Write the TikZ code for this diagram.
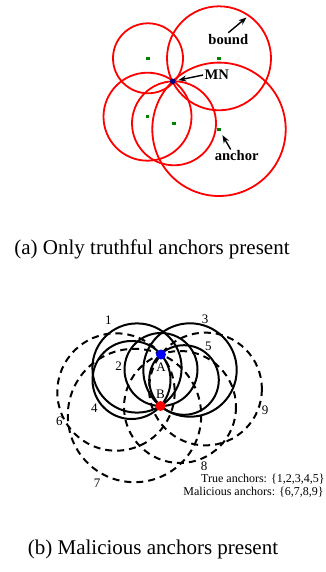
\documentclass[tikz,border=0pt]{standalone}
\usepackage{fontspec}
\setmainfont{Liberation Serif}
\usetikzlibrary{arrows.meta}

\begin{document}
\begin{tikzpicture}[x=0.5pt,y=-0.5pt,
  bnd/.style={color=red,line width=0.9pt},
  anc/.style={fill=green!50!black,inner sep=0pt,minimum size=1.7pt},
  lbl/.style={font=\fontsize{7.3}{8}\selectfont\bfseries,inner sep=0.5pt},
  ptr/.style={line width=0.7pt,-{Stealth[length=4pt,width=3pt]}},
  tru/.style={line width=1pt},
  mal/.style={line width=1pt,dash pattern=on 3.5pt off 2.5pt},
  num/.style={font=\fontsize{6.5}{7}\selectfont,inner sep=0pt},
  subcap/.style={font=\fontsize{10.5}{12}\selectfont,inner sep=0pt}]
\definecolor{navyblue}{rgb}{0,0,0.5}
\useasboundingbox (0,0) rectangle (326,572);

% (a) Anchors and their bound circles
\node[anc] (a1) at (148,58.3) {};
\node[anc] (a2) at (219,58.3) {};
\node[anc] (a3) at (147.5,116.7) {};
\node[anc] (a4) at (174,123.3) {};
\node[anc] (a5) at (219,129.3) {};
\draw[bnd] (a1) circle (35);
\draw[bnd] (a2) circle (52);
\draw[bnd] (a3) circle (44);
\draw[bnd] (a4) circle (42);
\draw[bnd] (a5) circle (66.7);

% Mobile node
\node[circle,fill=navyblue,inner sep=0pt,minimum size=2.8pt] (mn) at (172.7,81.3) {};

% Labels of (a)
\node[lbl] (bound) at (228.3,39.3) {bound};
\node[lbl] (mnlbl) at (216.7,75) {MN};
\node[lbl] (anclbl) at (236.7,156) {anchor};
\coordinate (bndtip) at (246.5,17.5);
\draw[ptr] (bound.north) -- (bndtip);
\draw[ptr,shorten >=1.3pt] (mnlbl.west) -- (mn);
\draw[ptr,shorten >=2.2pt] ([xshift=-3pt]anclbl.north) -- (a5);

\node[subcap] (capa) at (152,249) {(a) Only truthful anchors present};

% (b) Malicious anchors (dashed)
\draw[mal] (116,392) circle (58.7);
\draw[mal] (134.5,415.5) circle (66.7);
\draw[mal] (180,407) circle (56);
\draw[mal] (205.5,389) circle (56.4);

% True anchors (solid)
\draw[tru] (137,368) circle (44.6);
\draw[tru] (161,369.5) circle (36.5);
\draw[tru] (190,370) circle (46.7);
\draw[tru] (131.5,380) circle (39);
\draw[tru] (184,380) circle (34.8);

% Points A and B
\node[circle,fill=blue,inner sep=0pt,minimum size=5pt] (A) at (161,354.5) {};
\node[circle,fill=red,inner sep=0pt,minimum size=5pt] (B) at (160.5,406) {};
\node[num] (alab) at (161,367.5) {A};
\node[num] (blab) at (160.5,394.5) {B};

% Circle numbers
\node[num] (n1) at (108.3,320.5) {1};
\node[num] (n2) at (118.5,366.5) {2};
\node[num] (n3) at (205,319.5) {3};
\node[num] (n4) at (94.3,408) {4};
\node[num] (n5) at (208.3,346) {5};
\node[num] (n6) at (59.3,421) {6};
\node[num] (n7) at (97,483) {7};
\node[num] (n8) at (204,466) {8};
\node[num] (n9) at (265,410.5) {9};

% Legend
\node[num,font=\fontsize{6}{7}\selectfont,anchor=east] (trueleg) at (325,479) {True anchors: \{1,2,3,4,5\}};
\node[num,font=\fontsize{6}{7}\selectfont,anchor=east] (malleg) at (324,492) {Malicious anchors: \{6,7,8,9\}};

\node[subcap] (capb) at (153,549) {(b) Malicious anchors present};
\end{tikzpicture}
\end{document}
